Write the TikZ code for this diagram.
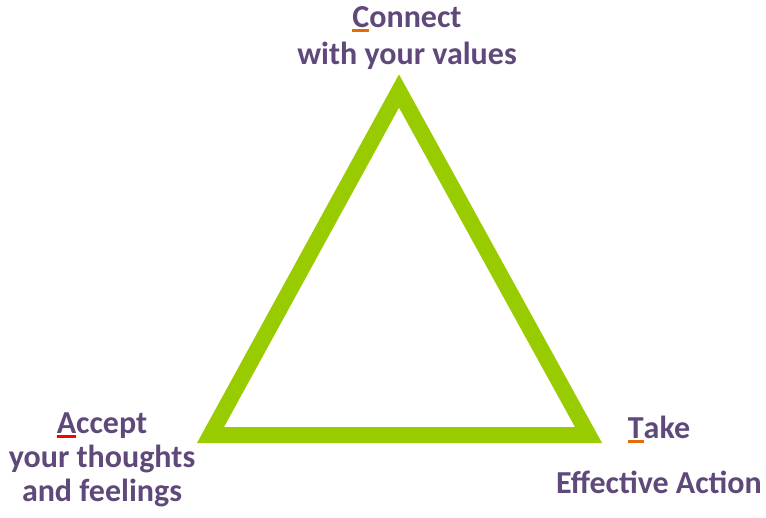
\documentclass[tikz,border=0pt]{standalone}
\usepackage{fontspec}
\setmainfont{Carlito}
\usepackage{xcolor}

\definecolor{actpurple}{HTML}{5F497A}
\definecolor{actgreen}{HTML}{99CC00}
\definecolor{markorange}{HTML}{E46C0A}
\definecolor{markred}{HTML}{FF0000}

% short coloured bar under the first letter of a word
\newcommand\markfirst[2]{\setbox0\hbox{#2}\rlap{\textcolor{#1}{\rule[-4.5pt]{\wd0}{2.2pt}}}\box0}

\begin{document}
\begin{tikzpicture}[x=1pt,y=-1pt,
  cornertext/.style={text=actpurple,font=\fontsize{32}{34}\selectfont\bfseries,align=center,inner sep=0pt,anchor=base},
  side/.style={draw=actgreen,line width=16pt,miter limit=10}]
\useasboundingbox (0,0) rectangle (766,517);

\coordinate (top)   at (399,91);
\coordinate (left)  at (210.5,435);
\coordinate (right) at (588.5,435);

\draw[side] (top) -- (left) -- (right) -- cycle;

% base anchor sits on the last line
\node[cornertext] (connect) at (407,64)  {\markfirst{markorange}{C}onnect\\[3pt]with your values};
\node[cornertext] (accept)  at (102,501) {\markfirst{markred}{A}ccept\\your thoughts\\and feelings};
\node[cornertext] (take)    at (659,493) {\markfirst{markorange}{T}ake\\[21pt]Effective Action};
\end{tikzpicture}
\end{document}
